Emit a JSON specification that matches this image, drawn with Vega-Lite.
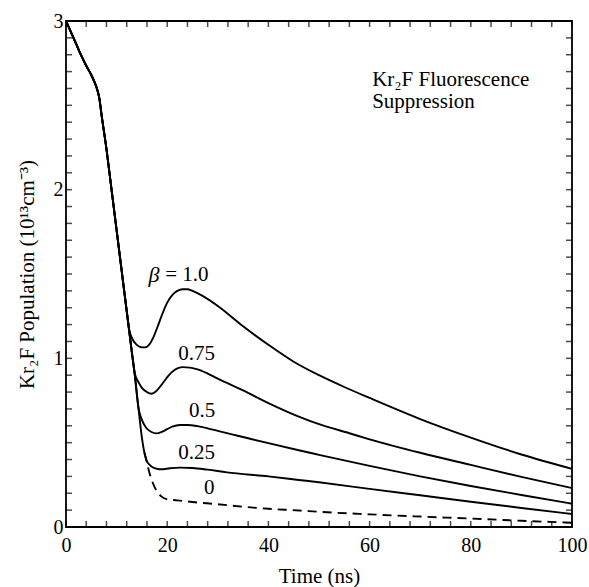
{
  "$schema": "https://vega.github.io/schema/vega-lite/v6.json",
  "width": 506,
  "height": 506,
  "autosize": {"type": "none"},
  "padding": {"left": 66, "top": 21, "right": 17, "bottom": 60},
  "background": "white",
  "config": {"view": {"stroke": "black", "strokeWidth": 1.8}, "font": "Liberation Serif"},
  "datasets": {
    "curves": [
      {"beta":"1.0","t":0,"n":3.0},{"beta":"1.0","t":1,"n":2.932},{"beta":"1.0","t":2,"n":2.864},{"beta":"1.0","t":3,"n":2.796},{"beta":"1.0","t":4,"n":2.735},{"beta":"1.0","t":5,"n":2.68},{"beta":"1.0","t":5.6,"n":2.64},{"beta":"1.0","t":6.1,"n":2.6},{"beta":"1.0","t":6.6,"n":2.54},{"beta":"1.0","t":7,"n":2.45},{"beta":"1.0","t":8,"n":2.24},{"beta":"1.0","t":9,"n":2.0},{"beta":"1.0","t":10,"n":1.76},{"beta":"1.0","t":11,"n":1.52},{"beta":"1.0","t":12,"n":1.28},
      {"beta":"1.0","t":12.5,"n":1.17},{"beta":"1.0","t":13.2,"n":1.11},{"beta":"1.0","t":14,"n":1.08},{"beta":"1.0","t":14.8,"n":1.066},{"beta":"1.0","t":15.6,"n":1.065},{"beta":"1.0","t":16.4,"n":1.08},{"beta":"1.0","t":17.2,"n":1.12},{"beta":"1.0","t":18,"n":1.18},{"beta":"1.0","t":19,"n":1.26},{"beta":"1.0","t":20,"n":1.33},{"beta":"1.0","t":21,"n":1.375},{"beta":"1.0","t":22,"n":1.4},{"beta":"1.0","t":23,"n":1.41},{"beta":"1.0","t":24,"n":1.41},{"beta":"1.0","t":25,"n":1.4},{"beta":"1.0","t":27,"n":1.37},{"beta":"1.0","t":30,"n":1.31},{"beta":"1.0","t":35,"n":1.19},{"beta":"1.0","t":40,"n":1.08},{"beta":"1.0","t":45,"n":0.98},{"beta":"1.0","t":50,"n":0.9},{"beta":"1.0","t":55,"n":0.83},{"beta":"1.0","t":60,"n":0.765},{"beta":"1.0","t":70,"n":0.64},{"beta":"1.0","t":80,"n":0.53},{"beta":"1.0","t":90,"n":0.43},{"beta":"1.0","t":100,"n":0.345},

      {"beta":"0.75","t":0,"n":3.0},{"beta":"0.75","t":1,"n":2.932},{"beta":"0.75","t":2,"n":2.864},{"beta":"0.75","t":3,"n":2.796},{"beta":"0.75","t":4,"n":2.735},{"beta":"0.75","t":5,"n":2.68},{"beta":"0.75","t":5.6,"n":2.64},{"beta":"0.75","t":6.1,"n":2.6},{"beta":"0.75","t":6.6,"n":2.54},{"beta":"0.75","t":7,"n":2.45},{"beta":"0.75","t":8,"n":2.24},{"beta":"0.75","t":9,"n":2.0},{"beta":"0.75","t":10,"n":1.76},{"beta":"0.75","t":11,"n":1.52},{"beta":"0.75","t":12,"n":1.28},{"beta":"0.75","t":12.5,"n":1.16},{"beta":"0.75","t":13,"n":1.04},{"beta":"0.75","t":13.6,"n":0.91},
      {"beta":"0.75","t":14.3,"n":0.86},{"beta":"0.75","t":15,"n":0.825},{"beta":"0.75","t":16,"n":0.8},{"beta":"0.75","t":16.9,"n":0.79},{"beta":"0.75","t":17.8,"n":0.805},{"beta":"0.75","t":18.8,"n":0.84},{"beta":"0.75","t":19.8,"n":0.88},{"beta":"0.75","t":20.8,"n":0.915},{"beta":"0.75","t":21.8,"n":0.938},{"beta":"0.75","t":23,"n":0.948},{"beta":"0.75","t":24.5,"n":0.945},{"beta":"0.75","t":26,"n":0.935},{"beta":"0.75","t":28,"n":0.91},{"beta":"0.75","t":30,"n":0.88},{"beta":"0.75","t":35,"n":0.81},{"beta":"0.75","t":40,"n":0.735},{"beta":"0.75","t":46,"n":0.655},{"beta":"0.75","t":50,"n":0.61},{"beta":"0.75","t":56,"n":0.556},{"beta":"0.75","t":60,"n":0.52},{"beta":"0.75","t":70,"n":0.44},{"beta":"0.75","t":80,"n":0.368},{"beta":"0.75","t":90,"n":0.297},{"beta":"0.75","t":100,"n":0.231},

      {"beta":"0.5","t":0,"n":3.0},{"beta":"0.5","t":1,"n":2.932},{"beta":"0.5","t":2,"n":2.864},{"beta":"0.5","t":3,"n":2.796},{"beta":"0.5","t":4,"n":2.735},{"beta":"0.5","t":5,"n":2.68},{"beta":"0.5","t":5.6,"n":2.64},{"beta":"0.5","t":6.1,"n":2.6},{"beta":"0.5","t":6.6,"n":2.54},{"beta":"0.5","t":7,"n":2.45},{"beta":"0.5","t":8,"n":2.24},{"beta":"0.5","t":9,"n":2.0},{"beta":"0.5","t":10,"n":1.76},{"beta":"0.5","t":11,"n":1.52},{"beta":"0.5","t":12,"n":1.28},{"beta":"0.5","t":12.5,"n":1.16},{"beta":"0.5","t":13,"n":1.04},{"beta":"0.5","t":13.6,"n":0.9},{"beta":"0.5","t":14.3,"n":0.71},
      {"beta":"0.5","t":15,"n":0.635},{"beta":"0.5","t":15.8,"n":0.59},{"beta":"0.5","t":16.8,"n":0.565},{"beta":"0.5","t":17.9,"n":0.555},{"beta":"0.5","t":19,"n":0.565},{"beta":"0.5","t":20,"n":0.58},{"beta":"0.5","t":21,"n":0.595},{"beta":"0.5","t":22.5,"n":0.605},{"beta":"0.5","t":24,"n":0.605},{"beta":"0.5","t":26,"n":0.598},{"beta":"0.5","t":28,"n":0.585},{"beta":"0.5","t":30,"n":0.57},{"beta":"0.5","t":33,"n":0.548},{"beta":"0.5","t":36,"n":0.526},{"beta":"0.5","t":40,"n":0.497},{"beta":"0.5","t":46,"n":0.455},{"beta":"0.5","t":50,"n":0.428},{"beta":"0.5","t":60,"n":0.362},{"beta":"0.5","t":70,"n":0.3},{"beta":"0.5","t":80,"n":0.243},{"beta":"0.5","t":90,"n":0.19},{"beta":"0.5","t":100,"n":0.138},

      {"beta":"0.25","t":0,"n":3.0},{"beta":"0.25","t":1,"n":2.932},{"beta":"0.25","t":2,"n":2.864},{"beta":"0.25","t":3,"n":2.796},{"beta":"0.25","t":4,"n":2.735},{"beta":"0.25","t":5,"n":2.68},{"beta":"0.25","t":5.6,"n":2.64},{"beta":"0.25","t":6.1,"n":2.6},{"beta":"0.25","t":6.6,"n":2.54},{"beta":"0.25","t":7,"n":2.45},{"beta":"0.25","t":8,"n":2.24},{"beta":"0.25","t":9,"n":2.0},{"beta":"0.25","t":10,"n":1.76},{"beta":"0.25","t":11,"n":1.52},{"beta":"0.25","t":12,"n":1.28},{"beta":"0.25","t":12.5,"n":1.16},{"beta":"0.25","t":13,"n":1.04},{"beta":"0.25","t":13.6,"n":0.9},{"beta":"0.25","t":14.3,"n":0.71},{"beta":"0.25","t":15,"n":0.53},{"beta":"0.25","t":15.5,"n":0.44},{"beta":"0.25","t":15.9,"n":0.395},
      {"beta":"0.25","t":16.5,"n":0.37},{"beta":"0.25","t":17.2,"n":0.353},{"beta":"0.25","t":18,"n":0.345},{"beta":"0.25","t":18.9,"n":0.342},{"beta":"0.25","t":20.5,"n":0.348},{"beta":"0.25","t":22.5,"n":0.352},{"beta":"0.25","t":25,"n":0.35},{"beta":"0.25","t":28,"n":0.34},{"beta":"0.25","t":31.8,"n":0.324},{"beta":"0.25","t":40,"n":0.3},{"beta":"0.25","t":46,"n":0.279},{"beta":"0.25","t":50,"n":0.265},{"beta":"0.25","t":60,"n":0.226},{"beta":"0.25","t":70,"n":0.188},{"beta":"0.25","t":80,"n":0.15},{"beta":"0.25","t":90,"n":0.113},{"beta":"0.25","t":100,"n":0.077},

      {"beta":"0","t":15.5,"n":0.44},{"beta":"0","t":15.9,"n":0.395},{"beta":"0","t":16.5,"n":0.32},{"beta":"0","t":17.2,"n":0.258},{"beta":"0","t":17.9,"n":0.215},{"beta":"0","t":18.9,"n":0.18},{"beta":"0","t":19.9,"n":0.165},{"beta":"0","t":22,"n":0.158},{"beta":"0","t":25,"n":0.148},{"beta":"0","t":30,"n":0.135},{"beta":"0","t":35,"n":0.12},{"beta":"0","t":40,"n":0.108},{"beta":"0","t":46,"n":0.098},{"beta":"0","t":50,"n":0.09},{"beta":"0","t":60,"n":0.075},{"beta":"0","t":70,"n":0.062},{"beta":"0","t":80,"n":0.05},{"beta":"0","t":90,"n":0.037},{"beta":"0","t":100,"n":0.025}
    ],
    "xticks": [{"v":0},{"v":4},{"v":8},{"v":12},{"v":16},{"v":20},{"v":24},{"v":28},{"v":32},{"v":36},{"v":40},{"v":44},{"v":48},{"v":52},{"v":56},{"v":60},{"v":64},{"v":68},{"v":72},{"v":76},{"v":80},{"v":84},{"v":88},{"v":92},{"v":96},{"v":100}],
    "yticks": [{"v":0},{"v":0.1},{"v":0.2},{"v":0.3},{"v":0.4},{"v":0.5},{"v":0.6},{"v":0.7},{"v":0.8},{"v":0.9},{"v":1},{"v":1.1},{"v":1.2},{"v":1.3},{"v":1.4},{"v":1.5},{"v":1.6},{"v":1.7},{"v":1.8},{"v":1.9},{"v":2},{"v":2.1},{"v":2.2},{"v":2.3},{"v":2.4},{"v":2.5},{"v":2.6},{"v":2.7},{"v":2.8},{"v":2.9},{"v":3}],
    "labels": [
      {"label":"0.75","t":25.8,"n":1.025},
      {"label":"0.5","t":26.9,"n":0.685},
      {"label":"0.25","t":25.8,"n":0.44},
      {"label":"0","t":28.3,"n":0.23}
    ],
    "eq": [{"label":"= 1.0","t":19.6,"n":1.494}],
    "greek": [{"label":"β","t":17.4,"n":1.494}],
    "notes": [
      {"label":"Kr₂F Fluorescence","t":60.5,"n":2.614},
      {"label":"Suppression","t":60.5,"n":2.484}
    ]
  },
  "layer": [
    {
      "data": {"name": "curves"},
      "transform": [{"filter": "datum.beta !== '0'"}],
      "mark": {"type": "line", "color": "black", "strokeWidth": 1.9, "interpolate": "monotone"},
      "encoding": {
        "x": {"field": "t", "type": "quantitative", "scale": {"domain": [0, 100], "nice": false, "zero": false},
          "axis": {"orient": "bottom", "domain": false, "ticks": false, "grid": false, "values": [0, 20, 40, 60, 80, 100],
            "labelExpr": "format(datum.value, 'd')",
            "labelFont": "Liberation Serif", "labelFontSize": 20, "labelColor": "black", "labelPadding": 8,
            "labelOverlap": false, "labelFlush": false,
            "title": "Time (ns)", "titleFont": "Liberation Serif", "titleFontSize": 21, "titleFontWeight": "normal", "titleColor": "black",
            "titleBaseline": "alphabetic", "titleY": 55, "titleX": 253}},
        "y": {"field": "n", "type": "quantitative", "scale": {"domain": [0, 3], "nice": false},
          "axis": {"orient": "left", "domain": false, "ticks": false, "grid": false, "values": [0, 1, 2, 3],
            "labelExpr": "format(datum.value, 'd')",
            "labelFont": "Liberation Serif", "labelFontSize": 20, "labelColor": "black", "labelPadding": 3,
            "labelOverlap": false, "labelFlush": false,
            "title": "Kr₂F Population (10¹³cm⁻³)", "titleFont": "Liberation Serif", "titleFontSize": 21, "titleFontWeight": "normal", "titleColor": "black",
            "titleBaseline": "alphabetic", "titleX": -33, "titleY": 253}},
        "detail": {"field": "beta"}
      }
    },
    {
      "data": {"name": "curves"},
      "transform": [{"filter": "datum.beta === '0'"}],
      "mark": {"type": "line", "color": "black", "strokeWidth": 1.9, "strokeDash": [9, 6], "interpolate": "monotone"},
      "encoding": {
        "x": {"field": "t", "type": "quantitative"},
        "y": {"field": "n", "type": "quantitative"}
      }
    },
    {
      "data": {"name": "xticks"},
      "mark": {"type": "tick", "orient": "vertical", "color": "black", "size": 6, "thickness": 1.5, "yOffset": -3},
      "encoding": {
        "x": {"field": "v", "type": "quantitative"},
        "y": {"datum": 0, "type": "quantitative"}
      }
    },
    {
      "data": {"name": "xticks"},
      "mark": {"type": "tick", "orient": "vertical", "color": "black", "size": 6, "thickness": 1.5, "yOffset": 3},
      "encoding": {
        "x": {"field": "v", "type": "quantitative"},
        "y": {"datum": 3, "type": "quantitative"}
      }
    },
    {
      "data": {"name": "yticks"},
      "mark": {"type": "tick", "orient": "horizontal", "color": "black", "size": 6, "thickness": 1.5, "xOffset": 3},
      "encoding": {
        "y": {"field": "v", "type": "quantitative"},
        "x": {"datum": 0, "type": "quantitative"}
      }
    },
    {
      "data": {"name": "yticks"},
      "mark": {"type": "tick", "orient": "horizontal", "color": "black", "size": 6, "thickness": 1.5, "xOffset": -3},
      "encoding": {
        "y": {"field": "v", "type": "quantitative"},
        "x": {"datum": 100, "type": "quantitative"}
      }
    },
    {
      "data": {"name": "labels"},
      "mark": {"type": "text", "font": "Liberation Serif", "fontSize": 21, "color": "black", "align": "center", "baseline": "middle"},
      "encoding": {
        "x": {"field": "t", "type": "quantitative"},
        "y": {"field": "n", "type": "quantitative"},
        "text": {"field": "label"}
      }
    },
    {
      "data": {"name": "eq"},
      "mark": {"type": "text", "font": "Liberation Serif", "fontSize": 21, "color": "black", "align": "left", "baseline": "middle"},
      "encoding": {
        "x": {"field": "t", "type": "quantitative"},
        "y": {"field": "n", "type": "quantitative"},
        "text": {"field": "label"}
      }
    },
    {
      "data": {"name": "greek"},
      "mark": {"type": "text", "font": "Liberation Serif", "fontSize": 22, "fontStyle": "italic", "color": "black", "align": "center", "baseline": "middle"},
      "encoding": {
        "x": {"field": "t", "type": "quantitative"},
        "y": {"field": "n", "type": "quantitative"},
        "text": {"field": "label"}
      }
    },
    {
      "data": {"name": "notes"},
      "mark": {"type": "text", "font": "Liberation Serif", "fontSize": 21, "color": "black", "align": "left", "baseline": "alphabetic"},
      "encoding": {
        "x": {"field": "t", "type": "quantitative"},
        "y": {"field": "n", "type": "quantitative"},
        "text": {"field": "label"}
      }
    }
  ]
}
